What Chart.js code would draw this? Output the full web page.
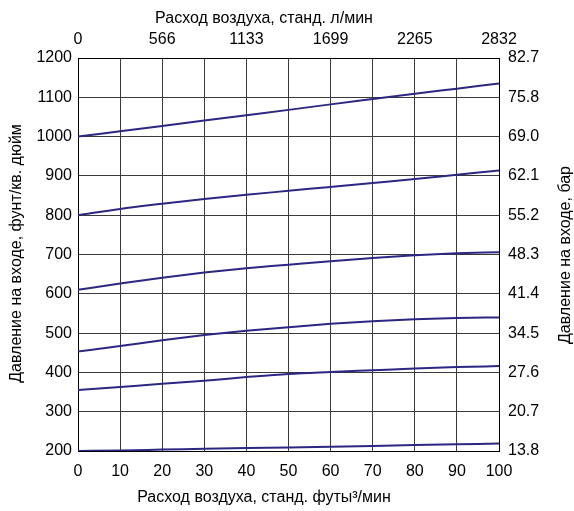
<!DOCTYPE html>
<html>
<head>
<meta charset="utf-8">
<script src="https://cdn.jsdelivr.net/npm/chart.js@4/dist/chart.umd.min.js"></script>
<style>
html,body{margin:0;padding:0;background:#fff;}
#wrap{width:574px;height:511px;position:relative;}
</style>
</head>
<body>
<div id="wrap"><canvas id="c" width="574" height="511"></canvas></div>
<script>
const flowScfm = [0,10,20,30,40,50,60,70,80,90,100];
const curve1000 = [1000,1013.5,1027,1041,1054.5,1068,1082,1095.5,1109,1122,1135];
const curve800  = [800,816,829,841,852,862,872,882,892,903,914];
const curve610  = [610,626,641,654,665,674,683,691,698,703,706];
const curve455  = [453,467,482,495,506,515,523.5,530,535,538.5,540];
const curve355  = [355,363,371,379,388,396,401,405.5,410,413.5,416];
const curve200  = [200,201.5,203.5,205.5,207.5,209,211,213,215,217,219];
const topTickLabels = ['0','566','1133','1699','2265','2832'];
const barTickLabels = ['13.8','20.7','27.6','34.5','41.4','48.3','55.2','62.1','69.0','75.8','82.7'];
const titleBottom = 'Расход воздуха, станд. футы³/мин';
const titleTop = 'Расход воздуха, станд. л/мин';
const titleLeft = 'Давление на входе, фунт/кв. дюйм';
const titleRight = 'Давление на входе, бар';

const curves = [curve1000, curve800, curve610, curve455, curve355, curve200];
const lineColor = '#2b2783';
const fontFamily = '"Liberation Sans", Arial, sans-serif';
const font = {family:fontFamily, size:16};

const titlesPlugin = {
  id:'titles',
  afterDraw(chart){
    const ctx = chart.ctx;
    ctx.save();
    ctx.fillStyle = '#000';
    ctx.font = '16px ' + fontFamily;
    ctx.textAlign = 'center';
    ctx.textBaseline = 'alphabetic';
    ctx.fillText(titleTop, 264, 22.5);
    ctx.fillText(titleBottom, 264, 501.5);
    ctx.save();
    ctx.translate(21, 253.5);
    ctx.rotate(-Math.PI/2);
    ctx.fillText(titleLeft, 0, 0);
    ctx.restore();
    ctx.save();
    ctx.translate(570, 255);
    ctx.rotate(-Math.PI/2);
    ctx.fillText(titleRight, 0, 0);
    ctx.restore();
    ctx.restore();
  }
};

new Chart(document.getElementById('c'), {
  type:'line',
  data:{
    datasets: curves.map(c => ({
      data: flowScfm.map((x,i)=>({x:x, y:c[i]})),
      borderColor: lineColor,
      borderWidth: 2,
      pointRadius: 0,
      fill:false,
      cubicInterpolationMode:'monotone',
      xAxisID:'x', yAxisID:'y'
    }))
  },
  plugins:[titlesPlugin],
  options:{
    responsive:false,
    animation:false,
    devicePixelRatio:1,
    layout:{padding:0},
    plugins:{legend:{display:false}, tooltip:{enabled:false}},
    scales:{
      x:{
        type:'linear', position:'bottom', min:0, max:100,
        afterFit: s => { s.height = 60; },
        ticks:{stepSize:10, color:'#000', font:font, padding:11, maxRotation:0},
        grid:{color:'#3a3a3a', lineWidth:1, drawTicks:false},
        border:{color:'#000', width:1}
      },
      x2:{
        type:'linear', position:'top', min:0, max:100,
        afterFit: s => { s.height = 58; },
        afterBuildTicks: ax => { ax.ticks = [0,20,40,60,80,100].map(v=>({value:v})); },
        ticks:{color:'#000', font:font, padding:9, maxRotation:0,
          callback:(v)=> topTickLabels[Math.round(v/20)]},
        grid:{display:false, drawTicks:false},
        border:{color:'#000', width:1}
      },
      y:{
        type:'linear', position:'left', min:200, max:1200,
        afterFit: s => { s.width = 78; },
        ticks:{stepSize:100, color:'#000', font:font, padding:6,
          callback:(v)=> String(v)},
        grid:{color:'#3a3a3a', lineWidth:1, drawTicks:false},
        border:{color:'#000', width:1}
      },
      y2:{
        type:'linear', position:'right', min:200, max:1200,
        afterFit: s => { s.width = 75; },
        afterBuildTicks: ax => { ax.ticks = [200,300,400,500,600,700,800,900,1000,1100,1200].map(v=>({value:v})); },
        ticks:{color:'#000', font:font, padding:9,
          callback:(v)=> barTickLabels[Math.round((v-200)/100)]},
        grid:{display:false, drawTicks:false},
        border:{color:'#000', width:1}
      }
    }
  }
});
</script>
</body>
</html>
